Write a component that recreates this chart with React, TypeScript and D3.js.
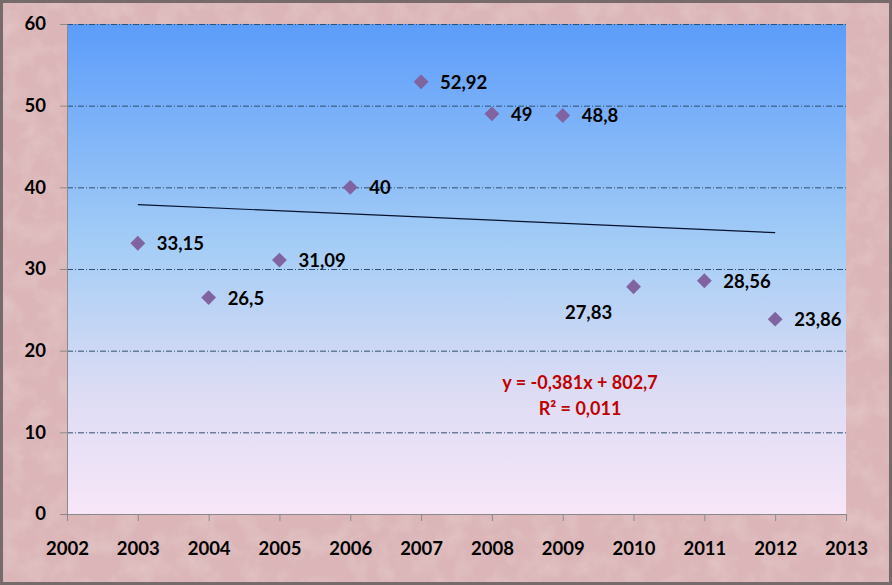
import { useEffect, useRef } from "react";
import * as d3 from "d3";

const years = [2003, 2004, 2005, 2006, 2007, 2008, 2009, 2010, 2011, 2012];
const values = [33.15, 26.5, 31.09, 40, 52.92, 49, 48.8, 27.83, 28.56, 23.86];
const valueLabels = ["33,15", "26,5", "31,09", "40", "52,92", "49", "48,8", "27,83", "28,56", "23,86"];
const labelSide = ["right", "right", "right", "right", "right", "right", "right", "below-left", "right", "right"];
const xTicks = [2002, 2003, 2004, 2005, 2006, 2007, 2008, 2009, 2010, 2011, 2012, 2013];
const yTicks = [0, 10, 20, 30, 40, 50, 60];

const FONT = "Lato, 'Open Sans', sans-serif";

const drawChart = (svgEl: SVGSVGElement) => {
  const width = 892;
  const height = 585;
  const marginTop = 24;
  const marginRight = 46;
  const marginBottom = 71;
  const marginLeft = 67;

  const svg = d3.select(svgEl);
  svg.selectAll("*").remove();

  const x = d3.scaleLinear()
    .domain([2002, 2013])
    .range([marginLeft, width - marginRight]);

  const y = d3.scaleLinear()
    .domain([0, 60])
    .range([height - marginBottom, marginTop]);

  const defs = svg.append("defs");

  const grad = defs.append("linearGradient")
    .attr("id", "plotGrad")
    .attr("x1", "0%").attr("y1", "0%")
    .attr("x2", "0%").attr("y2", "100%");
  grad.append("stop").attr("offset", "0%").attr("stop-color", "#5c9cfa");
  grad.append("stop").attr("offset", "45%").attr("stop-color", "#a4cdf6");
  grad.append("stop").attr("offset", "75%").attr("stop-color", "#dcdcf4");
  grad.append("stop").attr("offset", "100%").attr("stop-color", "#f8e6f8");

  // mottled pink background
  const filter = defs.append("filter").attr("id", "marble");
  filter.append("feTurbulence")
    .attr("type", "fractalNoise")
    .attr("baseFrequency", "0.045")
    .attr("numOctaves", 4)
    .attr("seed", 3);
  filter.append("feColorMatrix")
    .attr("type", "matrix")
    .attr("values", "0 0 0 0 1  0 0 0 0 1  0 0 0 0 1  0 0 0 0.9 -0.35");

  svg.append("rect")
    .attr("width", width)
    .attr("height", height)
    .attr("fill", "#dbb5b7");
  svg.append("rect")
    .attr("width", width)
    .attr("height", height)
    .attr("filter", "url(#marble)")
    .attr("opacity", 0.4);
  svg.append("rect")
    .attr("x", 1.5)
    .attr("y", 1.5)
    .attr("width", width - 3)
    .attr("height", height - 3)
    .attr("fill", "none")
    .attr("stroke", "#776a6b")
    .attr("stroke-width", 3);

  // plot area
  svg.append("rect")
    .attr("x", x(2002))
    .attr("y", y(60))
    .attr("width", x(2013) - x(2002))
    .attr("height", y(0) - y(60))
    .attr("fill", "url(#plotGrad)");

  // gridlines
  svg.append("g")
    .selectAll("line")
    .data(yTicks.filter((d) => d > 0))
    .join("line")
    .attr("x1", x(2002))
    .attr("x2", x(2013))
    .attr("y1", (d) => y(d) + 0.5)
    .attr("y2", (d) => y(d) + 0.5)
    .attr("stroke", "#2f4f6f")
    .attr("stroke-width", 1)
    .attr("stroke-dasharray", "6,2,1,2");

  // y axis
  svg.append("g")
    .attr("transform", `translate(${x(2002)},0)`)
    .call(d3.axisLeft(y).tickValues(yTicks).tickSize(7).tickPadding(14).tickFormat(d3.format("d")))
    .call((g) => g.select(".domain").attr("stroke", "#8a8a8a"))
    .call((g) => g.selectAll(".tick line").attr("stroke", "#8a8a8a"))
    .call((g) => g.selectAll("text")
      .attr("font-family", FONT)
      .attr("font-weight", "bold")
      .attr("font-size", 18.5)
      .attr("fill", "#000"));

  // x axis
  svg.append("g")
    .attr("transform", `translate(0,${y(0)})`)
    .call(d3.axisBottom(x).tickValues(xTicks).tickSize(7).tickSizeOuter(0).tickPadding(21).tickFormat(d3.format("d")))
    .call((g) => g.select(".domain").attr("stroke", "#8a8a8a"))
    .call((g) => g.selectAll(".tick line").attr("stroke", "#8a8a8a"))
    .call((g) => g.selectAll("text")
      .attr("font-family", FONT)
      .attr("font-weight", "bold")
      .attr("font-size", 18.5)
      .attr("fill", "#000"));

  // linear trend
  const xm = d3.mean(years)!;
  const ym = d3.mean(values)!;
  const slope = d3.sum(years, (d, i) => (d - xm) * (values[i] - ym)) / d3.sum(years, (d) => (d - xm) ** 2);
  const intercept = ym - slope * xm;
  const trend = d3.line<number>()
    .x((d) => x(d))
    .y((d) => y(slope * d + intercept));
  svg.append("path")
    .datum([years[0], years[years.length - 1]])
    .attr("d", trend)
    .attr("fill", "none")
    .attr("stroke", "#06122e")
    .attr("stroke-width", 1.2);

  // markers
  const diamond = d3.symbol().type(d3.symbolDiamond2).size(140);
  svg.append("g")
    .selectAll("path")
    .data(values)
    .join("path")
    .attr("transform", (d, i) => `translate(${x(years[i])},${y(d)})`)
    .attr("d", diamond)
    .attr("fill", "#8064a2");

  // data labels
  svg.append("g")
    .selectAll("text")
    .data(values)
    .join("text")
    .attr("x", (d, i) => labelSide[i] === "right" ? x(years[i]) + 19 : x(years[i]) - 45)
    .attr("y", (d, i) => labelSide[i] === "right" ? y(d) + 7 : y(d) + 32)
    .attr("text-anchor", (d, i) => labelSide[i] === "right" ? "start" : "middle")
    .attr("font-family", FONT)
    .attr("font-weight", "bold")
    .attr("font-size", 18.5)
    .attr("fill", "#000")
    .text((d, i) => valueLabels[i]);

  // equation
  const eq = svg.append("text")
    .attr("text-anchor", "middle")
    .attr("font-family", FONT)
    .attr("font-weight", "bold")
    .attr("font-size", 18)
    .attr("fill", "#c00000");
  eq.append("tspan").attr("x", 580).attr("y", 389).text("y = -0,381x + 802,7");
  eq.append("tspan").attr("x", 580).attr("y", 415).text("R² = 0,011");
};

export default function App() {
  const ref = useRef<SVGSVGElement>(null);
  useEffect(() => {
    if (ref.current) drawChart(ref.current);
  }, []);
  return (
    <svg
      ref={ref}
      width={892}
      height={585}
      style={{ position: "absolute", left: 0, top: 0, display: "block" }}
    />
  );
}
